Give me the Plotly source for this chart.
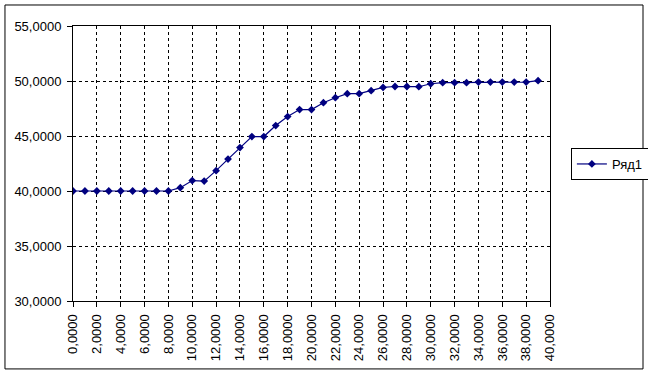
import plotly.graph_objects as go

x_vals = list(range(40))
y_vals = [40.0, 40.0, 40.0, 40.0, 40.0, 40.0, 40.0, 40.0, 40.0, 40.3,
          40.95, 40.9, 41.85, 42.9, 43.95, 44.95, 44.95, 45.95, 46.77, 47.4,
          47.4, 48.03, 48.48, 48.85, 48.85, 49.12, 49.42, 49.5, 49.5, 49.48,
          49.75, 49.85, 49.85, 49.85, 49.9, 49.9, 49.9, 49.9, 49.9, 50.03]
series_name = "Ряд1"

fig = go.Figure()
fig.add_trace(go.Scatter(
    x=x_vals, y=y_vals, name=series_name, mode="lines+markers",
    line=dict(color="#000080", width=1.2),
    marker=dict(symbol="diamond", size=6, color="#000080"),
))

font = dict(family="Liberation Sans, Arial, sans-serif", size=13, color="black")

fig.update_layout(
    width=648, height=374,
    margin=dict(l=73, r=98, t=26, b=73),
    paper_bgcolor="white", plot_bgcolor="white",
    separators=", ",
    font=font,
    showlegend=True,
    legend=dict(xref="container", yref="container",
                x=0.881, xanchor="left", y=0.5615, yanchor="middle",
                bordercolor="black", borderwidth=1, bgcolor="white",
                font=font, itemwidth=30, tracegroupgap=0),
    xaxis=dict(range=[0, 40], dtick=2, tick0=0, tickformat=".4f", tickangle=-90,
               showgrid=True, gridcolor="black", griddash="3px,3px", gridwidth=1,
               showline=True, linecolor="black", linewidth=1, mirror=True,
               ticks="outside", ticklen=5, tickcolor="black", zeroline=False,
               tickfont=font, automargin=False, ticklabelstandoff=2),
    yaxis=dict(range=[30, 55], dtick=5, tickformat=".4f",
               showgrid=True, gridcolor="black", griddash="3px,3px", gridwidth=1,
               showline=True, linecolor="black", linewidth=1, mirror=True,
               ticks="outside", ticklen=5, tickcolor="black", zeroline=False,
               tickfont=font, automargin=False, ticklabelstandoff=3),
    shapes=[dict(type="rect", xref="paper", yref="paper",
                 x0=-0.1426, x1=1.195, y0=-0.247, y1=1.0764,
                 line=dict(color="black", width=1), fillcolor="rgba(0,0,0,0)",
                 layer="below")],
)

fig.write_html("out.html")
